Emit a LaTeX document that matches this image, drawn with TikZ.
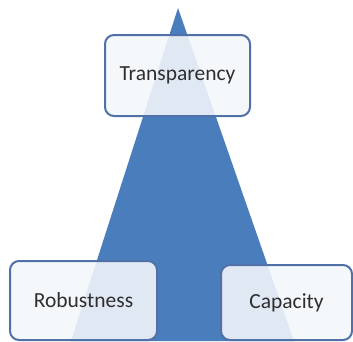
\documentclass[tikz,border=0pt]{standalone}
\usepackage{fontspec}
\setmainfont{Carlito}
\definecolor{PyramidBlue}{HTML}{4A7DBB}
\definecolor{BoxEdge}{HTML}{5070A8}
\definecolor{BoxFill}{HTML}{F4F7FB}
\definecolor{LabelGrey}{HTML}{2E2E2E}
\colorlet{ColourBase}{PyramidBlue}
\tikzset{
  pyramid style/.style={
    x=1pt, y=-1pt,
  },
  pyramid body/.style={
    fill=ColourBase,
  },
  corner box/.style={
    draw=BoxEdge,
    fill=BoxFill,
    fill opacity=0.88,
    text opacity=1,
    line width=2pt,
    rounded corners=9pt,
    inner sep=0pt,
    text=LabelGrey,
    font=\fontsize{21.5}{25}\selectfont,
  },
  top box/.style={
    corner box,
    minimum width=145pt,
    minimum height=81pt,
  },
  left box/.style={
    corner box,
    minimum width=147pt,
    minimum height=79pt,
  },
  right box/.style={
    corner box,
    minimum width=131pt,
    minimum height=75pt,
  },
}

\begin{document}
\begin{tikzpicture}[pyramid style]
  \useasboundingbox (0,0) rectangle (353,341);
  \coordinate (apex) at (178,8);
  \coordinate (baseL) at (71,341);
  \coordinate (baseR) at (294,341);
  \fill[pyramid body] (apex) -- (baseR) -- (baseL) -- cycle;
  \node[top box] (trans) at (177.5,75.5) {Transparency};
  \node[left box] (robust) at (83.5,300.5) {Robustness};
  \node[right box] (capac) at (286.5,302.5) {Capacity};
\end{tikzpicture}
\end{document}
